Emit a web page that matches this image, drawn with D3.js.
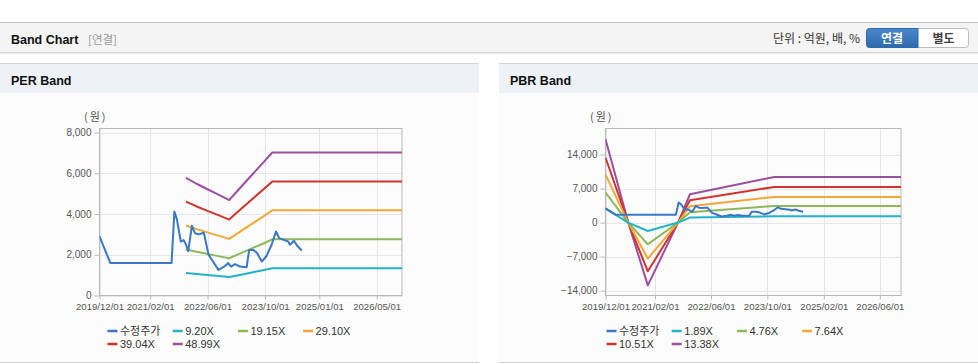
<!DOCTYPE html>
<html><head><meta charset="utf-8">
<script src="https://cdn.jsdelivr.net/npm/d3@7"></script>
<style>html,body{margin:0;padding:0;background:#fff;} svg{display:block;}</style>
</head><body><svg id="c" width="978" height="364"></svg>
<script>
// ---------- DATA ----------
const priceDates = ["2019-12-01","2020-03-01","2021-08-01","2021-08-25","2021-09-15","2021-10-18","2021-11-10","2021-12-01","2021-12-20","2022-01-20","2022-02-15","2022-03-20","2022-05-01","2022-06-10","2022-07-18","2022-09-01","2022-10-13","2022-11-24","2022-12-15","2023-01-21","2023-03-01","2023-04-28","2023-05-19","2023-06-22","2023-07-22","2023-09-03","2023-10-10","2023-11-25","2024-01-01","2024-01-28","2024-04-13","2024-04-28","2024-06-01","2024-06-28","2024-08-06"];
const priceValues = [2900,1600,1600,4120,3750,2650,2720,2500,2180,3420,3060,3000,3080,2000,1670,1260,1390,1590,1420,1540,1420,1390,2240,2240,2110,1670,1915,2490,3140,2820,2650,2490,2690,2440,2210];

const perDates = ["2021-12-01","2022-03-01","2022-06-01","2022-09-01","2022-12-01","2023-03-01","2023-06-01","2023-09-01","2023-12-01","2026-12-01"];
const per920  = [1110,1060,1010,960,910,1010,1120,1230,1340,1340];
const per1915 = [2260,2145,2040,1934,1829,2059,2288,2518,2760,2760];
const per2910 = [3434,3259,3099,2939,2779,3128,3477,3827,4180,4180];
const per3904 = [4607,4372,4158,3943,3728,4197,4665,5134,5594,5594];
const per4899 = [5781,5487,5217,4948,4679,5266,5854,6442,7020,7020];
const perNames = ["수정주가","9.20X","19.15X","29.10X","39.04X","48.99X"];
const perXTicks = ["2019-12-01","2021-02-01","2022-06-01","2023-10-01","2025-01-01","2026-05-01"];
const perYTicks = [0,2000,4000,6000,8000];

const pbrDates = ["2019-12-01","2020-06-15","2020-12-01","2021-08-20","2021-12-01","2023-12-01","2026-12-01"];
const pbr189  = [2880,0,-1730,0,1030,1300,1300];
const pbr476  = [6180,0,-4470,0,2120,3420,3420];
const pbr764  = [9880,0,-7410,0,3360,5270,5270];
const pbr1051 = [13380,0,-10030,0,4590,7330,7330];
const pbr1338 = [17150,0,-12910,0,5830,9390,9390];
const pbrNames = ["수정주가","1.89X","4.76X","7.64X","10.51X","13.38X"];
const pbrXTicks = ["2019-12-01","2021-02-01","2022-06-01","2023-10-01","2025-02-01","2026-06-01"];
const pbrYTicks = [-14000,-7000,0,7000,14000];

const colors = ["#3a78c6","#22b3c8","#8cb85a","#f4a736","#d3322c","#9b4f9f"];
const xDomain = ["2019-12-01","2026-12-01"];

// ---------- DRAW ----------
const parse = d3.timeParse("%Y-%m-%d");
const svg = d3.select("#c");
const LAT = "'Liberation Sans', 'Noto Sans CJK KR', sans-serif";
const KR = "'Noto Sans CJK KR', 'Liberation Sans', sans-serif";

// top header bar
svg.append("rect").attr("x",0).attr("y",22).attr("width",978).attr("height",31).attr("fill","#f4f4f4");
svg.append("line").attr("x1",0).attr("x2",978).attr("y1",22.5).attr("y2",22.5).attr("stroke","#c2c2c2");
svg.append("line").attr("x1",0).attr("x2",978).attr("y1",52.5).attr("y2",52.5).attr("stroke","#d4d4d4");
svg.append("line").attr("x1",0).attr("x2",978).attr("y1",53.5).attr("y2",53.5).attr("stroke","#ebebeb");
svg.append("text").attr("x",11).attr("y",43.5).attr("font-family",LAT).attr("font-weight","bold").attr("font-size","12.5px").attr("fill","#111").text("Band Chart");
svg.append("text").attr("x",88).attr("y",43.5).attr("font-family",KR).attr("font-size","11.5px").attr("fill","#999").text("[연결]");
svg.append("text").attr("x",860).attr("y",43).attr("text-anchor","end").attr("font-family",KR).attr("font-size","12px").attr("fill","#333").text("단위 : 억원, 배, %");
const grad = svg.append("defs").append("linearGradient").attr("id","bg").attr("x1",0).attr("x2",0).attr("y1",0).attr("y2",1);
grad.append("stop").attr("offset","0").attr("stop-color","#4a88cc");
grad.append("stop").attr("offset","1").attr("stop-color","#2d69ad");
svg.append("rect").attr("x",866.5).attr("y",28.5).attr("width",102).attr("height",19).attr("rx",3).attr("fill","#fff").attr("stroke","#bdbdbd");
svg.append("path").attr("d","M869.5,28.5 H918 V47.5 H869.5 A3,3 0 0 1 866.5,44.5 V31.5 A3,3 0 0 1 869.5,28.5 Z").attr("fill","url(#bg)").attr("stroke","#2d69ad");
svg.append("text").attr("x",892).attr("y",42.5).attr("text-anchor","middle").attr("font-family",KR).attr("font-weight","bold").attr("font-size","12px").attr("fill","#fff").text("연결");
svg.append("text").attr("x",943.5).attr("y",42.5).attr("text-anchor","middle").attr("font-family",KR).attr("font-weight","bold").attr("font-size","12px").attr("fill","#444").text("별도");

function panel(px, pw, title){
  svg.append("rect").attr("x",px).attr("y",64).attr("width",pw).attr("height",299).attr("fill","#fcfcfc");
  svg.append("rect").attr("x",px).attr("y",64).attr("width",pw).attr("height",29).attr("fill","#eef2f7");
  svg.append("line").attr("x1",px).attr("x2",px+pw).attr("y1",63.5).attr("y2",63.5).attr("stroke","#d4d4d4");
  svg.append("line").attr("x1",px).attr("x2",px+pw).attr("y1",362.5).attr("y2",362.5).attr("stroke","#cfcfcf");
  svg.append("text").attr("x",px+11).attr("y",84.5).attr("font-family",LAT).attr("font-weight","bold").attr("font-size","12.5px").attr("fill","#111").text(title);
}
panel(0,479,"PER Band");
panel(499,479,"PBR Band");

function chart(cfg){
  const g = svg.append("g");
  const x = d3.scaleTime().domain(xDomain.map(parse)).range([cfg.x0, cfg.x1]);
  const y = d3.scaleLinear().domain(cfg.yDomain).range([cfg.y1, cfg.y0]);
  // grid
  g.append("g").selectAll("line").data(cfg.xTicks.map(parse)).join("line")
    .attr("x1",d=>Math.round(x(d))+0.5).attr("x2",d=>Math.round(x(d))+0.5).attr("y1",cfg.y0).attr("y2",cfg.y1).attr("stroke","#e6e6e6");
  g.append("g").selectAll("line").data(cfg.yTicks).join("line")
    .attr("x1",cfg.x0).attr("x2",cfg.x1).attr("y1",d=>Math.round(y(d))+0.5).attr("y2",d=>Math.round(y(d))+0.5).attr("stroke","#e6e6e6");
  // axes
  const ya = g.append("g").attr("transform",`translate(${cfg.x0},0)`)
    .call(d3.axisLeft(y).tickValues(cfg.yTicks).tickSize(5).tickPadding(3).tickFormat(d3.format(",")));
  const xa = g.append("g").attr("transform",`translate(0,${cfg.y1})`)
    .call(d3.axisBottom(x).tickValues(cfg.xTicks.map(parse)).tickSize(4).tickPadding(4).tickFormat(d3.timeFormat("%Y/%m/%d")));
  [ya,xa].forEach(a=>{
    a.select(".domain").remove();
    a.selectAll("line").attr("stroke","#b8b8b8");
    a.selectAll("text").attr("font-family",LAT).attr("font-size","10px").attr("fill","#555");
  });
  xa.selectAll("text").attr("font-size","9.6px");
  // border
  g.append("rect").attr("x",cfg.x0).attr("y",cfg.y0).attr("width",cfg.x1-cfg.x0).attr("height",cfg.y1-cfg.y0).attr("fill","none").attr("stroke","#b8b8b8");
  g.append("text").attr("x",cfg.unitX).attr("y",121).attr("font-family",KR).attr("font-size","11px").attr("letter-spacing","2px").attr("fill","#555").text("(원)");
  // lines
  const line = d3.line().x(d=>x(d[0])).y(d=>y(d[1]));
  const clip = "clip"+cfg.id;
  svg.append("clipPath").attr("id",clip).append("rect").attr("x",cfg.x0).attr("y",cfg.y0).attr("width",cfg.x1-cfg.x0).attr("height",cfg.y1-cfg.y0);
  const lg = g.append("g").attr("clip-path",`url(#${clip})`);
  cfg.bands.slice().reverse().forEach((vals,ri)=>{
    const i = cfg.bands.length - ri;
    const pts = cfg.bandDates.map((d,k)=>[parse(d), vals[k]]);
    lg.append("path").attr("d",line(pts)).attr("fill","none").attr("stroke",colors[i]).attr("stroke-width",2).attr("stroke-linejoin","round");
  });
  const pp = priceDates.map((d,k)=>[parse(d), priceValues[k]]);
  lg.append("path").attr("d",line(pp)).attr("fill","none").attr("stroke",colors[0]).attr("stroke-width",2).attr("stroke-linejoin","round");
  // legend
  cfg.names.forEach((n,i)=>{
    const col = i%4, row = Math.floor(i/4);
    const lx = cfg.legX + col*65.2, ly = 331 + row*13;
    g.append("line").attr("x1",lx).attr("x2",lx+10).attr("y1",ly).attr("y2",ly).attr("stroke",colors[i]).attr("stroke-width",2.5);
    g.append("text").attr("x",lx+12.5).attr("y",ly+4).attr("font-family",LAT).attr("font-size","11px").attr("fill","#333").text(n);
  });
}

chart({id:"per", x0:99.5, x1:402, y0:128.5, y1:295.5, yDomain:[0,8200], xTicks:perXTicks, yTicks:perYTicks,
  bandDates:perDates, bands:[per920,per1915,per2910,per3904,per4899], names:perNames, legX:107.5, unitX:84});
chart({id:"pbr", x0:605.5, x1:901, y0:128.5, y1:295.5, yDomain:[-15000,19350], xTicks:pbrXTicks, yTicks:pbrYTicks,
  bandDates:pbrDates, bands:[pbr189,pbr476,pbr764,pbr1051,pbr1338], names:pbrNames, legX:606.5, unitX:590});
</script></body></html>
